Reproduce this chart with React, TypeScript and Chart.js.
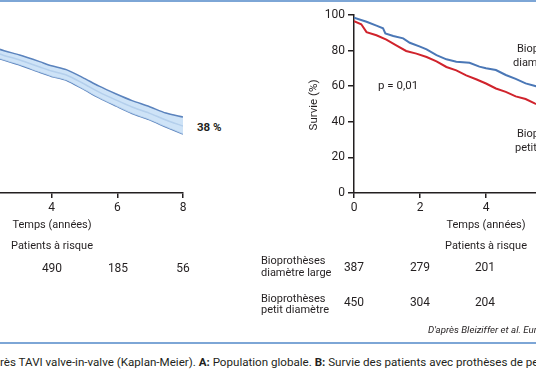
import React, { useEffect, useRef } from "react";
import { Chart, registerables } from "chart.js";

Chart.register(...registerables);

// Panel A: global population (Kaplan-Meier with confidence band)
const timesA = [0, 0.5, 1, 1.5, 2, 2.42, 3.03, 3.64, 4, 4.45, 4.94, 5.45, 5.97, 6.45, 6.97, 7.48, 8];
const midA = [100, 95, 90, 86, 81.5, 78.1, 74.7, 70.8, 68.5, 66.3, 61.8, 56.7, 52.2, 48.3, 44.9, 41.0, 37.6];
const upperA = [100, 97, 92.5, 88.8, 84.3, 80.8, 77.5, 73.8, 71.5, 69.3, 65.0, 60.0, 55.6, 51.9, 48.6, 44.9, 42.7];
const lowerA = [100, 93, 87.5, 83.2, 78.7, 75.4, 71.9, 67.8, 65.5, 63.3, 58.6, 53.4, 48.8, 44.7, 41.2, 37.1, 33.1];
const riskA = ["490", "185", "56"];

// Panel B: large vs small diameter bioprostheses
const timesLarge = [0, 0.38, 0.68, 0.88, 0.95, 1.19, 1.49, 1.69, 2, 2.2, 2.5, 2.8, 3.1, 3.5, 3.8, 4, 4.3, 4.6, 4.9, 5.2, 5.49, 6];
const survLarge = [98.5, 96.2, 94, 92.5, 89.7, 88.2, 86.9, 84.4, 82.2, 80.7, 77.5, 75.1, 73.8, 73.2, 71, 70.1, 69.1, 66.3, 64.1, 61.6, 60.1, 57.5];
const timesSmall = [0, 0.22, 0.38, 0.68, 0.98, 1.28, 1.58, 1.89, 2.2, 2.5, 2.8, 3.1, 3.4, 3.7, 4, 4.3, 4.6, 4.9, 5.2, 5.49, 6];
const survSmall = [96.6, 94.8, 90.4, 88.6, 86.2, 83, 79.8, 78.3, 76.4, 74, 70.8, 68.9, 66.1, 63.9, 61.5, 58.7, 56.8, 54.3, 52.8, 50.2, 47.5];
const riskLarge = ["387", "279", "201"];
const riskSmall = ["450", "304", "204"];
const yTicks = [0, 20, 40, 60, 80, 100];

const FONT = "Roboto, 'DejaVu Sans', sans-serif";
const INK = "#231f20";

function T(props: { x: number; y: number; s?: number; w?: string; i?: boolean; c?: string; a?: "left" | "center"; children: React.ReactNode }) {
  const s = props.s ?? 11;
  const lh = s + 2;
  const style: React.CSSProperties = {
    position: "absolute",
    top: props.y - lh / 2,
    fontSize: s,
    lineHeight: lh + "px",
    fontFamily: FONT,
    fontWeight: (props.w as any) ?? "normal",
    fontStyle: props.i ? "italic" : "normal",
    color: props.c ?? INK,
    whiteSpace: "nowrap",
  };
  if (props.a === "center") {
    style.left = props.x - 100;
    style.width = 200;
    style.textAlign = "center";
  } else {
    style.left = props.x;
  }
  return <div style={style}>{props.children}</div>;
}

function xAxisOpts() {
  return {
    type: "linear" as const,
    min: 0,
    max: 8,
    afterFit: (s: any) => {
      s.height = 37;
    },
    ticks: { stepSize: 2, color: INK, font: { family: FONT, size: 12 }, padding: 3 },
    grid: { display: true, drawOnChartArea: false, drawTicks: true, tickLength: 5, color: INK, lineWidth: 1.5 },
    border: { display: true, color: INK, width: 1.5 },
  };
}

export default function App() {
  const leftRef = useRef<HTMLCanvasElement>(null);
  const rightRef = useRef<HTMLCanvasElement>(null);

  useEffect(() => {
    const pts = (xs: number[], ys: number[]) => xs.map((x, i) => ({ x, y: ys[i] }));
    const left = new Chart(leftRef.current!, {
      type: "line",
      data: {
        datasets: [
          { data: pts(timesA, upperA), borderColor: "#5b83bd", borderWidth: 1.5, backgroundColor: "rgba(198,222,246,0.85)", fill: "+1", pointRadius: 0, tension: 0.25 },
          { data: pts(timesA, lowerA), borderColor: "#5b83bd", borderWidth: 1.5, pointRadius: 0, fill: false, tension: 0.25 },
          { data: pts(timesA, midA), borderColor: "#4f78b3", borderWidth: 1.5, pointRadius: 0, fill: false, tension: 0.25 },
        ],
      },
      options: {
        responsive: false,
        animation: false,
        devicePixelRatio: 1,
        layout: { padding: { left: 50, right: 10, top: 15, bottom: 0 } },
        plugins: { legend: { display: false }, tooltip: { enabled: false } },
        scales: {
          x: xAxisOpts(),
          y: { display: false, min: 0, max: 100 },
        },
      },
    });
    const right = new Chart(rightRef.current!, {
      type: "line",
      data: {
        datasets: [
          { data: pts(timesLarge, survLarge), borderColor: "#4a77b6", borderWidth: 2, pointRadius: 0, fill: false, tension: 0 },
          { data: pts(timesSmall, survSmall), borderColor: "#d0232c", borderWidth: 2, pointRadius: 0, fill: false, tension: 0 },
        ],
      },
      options: {
        responsive: false,
        animation: false,
        devicePixelRatio: 1,
        layout: { padding: { left: 0, right: 12, top: 15, bottom: 0 } },
        plugins: { legend: { display: false }, tooltip: { enabled: false } },
        scales: {
          x: xAxisOpts(),
          y: {
            type: "linear",
            min: 0,
            max: 100,
            afterFit: (s: any) => {
              s.width = 64;
            },
            afterBuildTicks: (s: any) => {
              s.ticks = yTicks.map((v) => ({ value: v }));
            },
            ticks: { color: INK, font: { family: FONT, size: 12 }, padding: 3 },
            grid: { display: true, drawOnChartArea: false, drawTicks: true, tickLength: 6, color: INK, lineWidth: 1.5 },
            border: { display: true, color: INK, width: 1.5 },
          },
        },
      },
    });
    return () => {
      left.destroy();
      right.destroy();
    };
  }, []);

  return (
    <div style={{ position: "absolute", left: 0, top: 0, width: 536, height: 386, overflow: "hidden", background: "#fff" }}>
      <div style={{ position: "absolute", left: 0, top: 0, width: 536, height: 2, background: "#7da6d6" }} />
      <canvas ref={leftRef} width={323} height={230} style={{ position: "absolute", left: -130, top: 0, width: 323, height: 230 }} />
      <canvas ref={rightRef} width={340} height={230} style={{ position: "absolute", left: 290, top: 0, width: 340, height: 230 }} />

      <T x={197} y={128} w="bold" s={11.5}>38 %</T>
      <T x={52} y={224} a="center">Temps (années)</T>
      <T x={52} y={245} a="center">Patients à risque</T>
      <T x={52} y={268} a="center" s={12}>{riskA[0]}</T>
      <T x={118} y={268} a="center" s={12}>{riskA[1]}</T>
      <T x={183} y={268} a="center" s={12}>{riskA[2]}</T>

      <div style={{ position: "absolute", left: 313 - 50, top: 105 - 8, width: 100, height: 16, lineHeight: "16px", textAlign: "center", fontFamily: FONT, fontSize: 11.5, color: INK, transform: "rotate(-90deg)" }}>Survie (%)</div>
      <T x={378} y={86} s={11.5}>p = 0,01</T>
      <T x={517} y={48}>Bioprothèses</T>
      <T x={513} y={62}>diamètre large</T>
      <T x={517} y={133}>Bioprothèses</T>
      <T x={515} y={147}>petit diamètre</T>

      <T x={486} y={224} a="center">Temps (années)</T>
      <T x={486} y={245} a="center">Patients à risque</T>
      <T x={261} y={260}>Bioprothèses</T>
      <T x={261} y={272}>diamètre large</T>
      <T x={354} y={267} a="center" s={12}>{riskLarge[0]}</T>
      <T x={420} y={267} a="center" s={12}>{riskLarge[1]}</T>
      <T x={485} y={267} a="center" s={12}>{riskLarge[2]}</T>
      <T x={261} y={298}>Bioprothèses</T>
      <T x={261} y={309}>petit diamètre</T>
      <T x={354} y={302} a="center" s={12}>{riskSmall[0]}</T>
      <T x={420} y={302} a="center" s={12}>{riskSmall[1]}</T>
      <T x={485} y={302} a="center" s={12}>{riskSmall[2]}</T>
      <T x={428} y={330} s={9.7} i>D'après Bleiziffer et al. Eur Heart J 2016</T>

      <div style={{ position: "absolute", left: 0, top: 342, width: 536, height: 2, background: "#7da6d6" }} />
      <div style={{ position: "absolute", left: 0, top: 355, fontFamily: FONT, fontSize: 11.6, lineHeight: "14px", color: INK, whiteSpace: "nowrap" }}>
        rès TAVI valve-in-valve (Kaplan-Meier). <b>A:</b> Population globale. <b>B:</b> Survie des patients avec prothèses de petit diamètre et de diamètre large.
      </div>
    </div>
  );
}
